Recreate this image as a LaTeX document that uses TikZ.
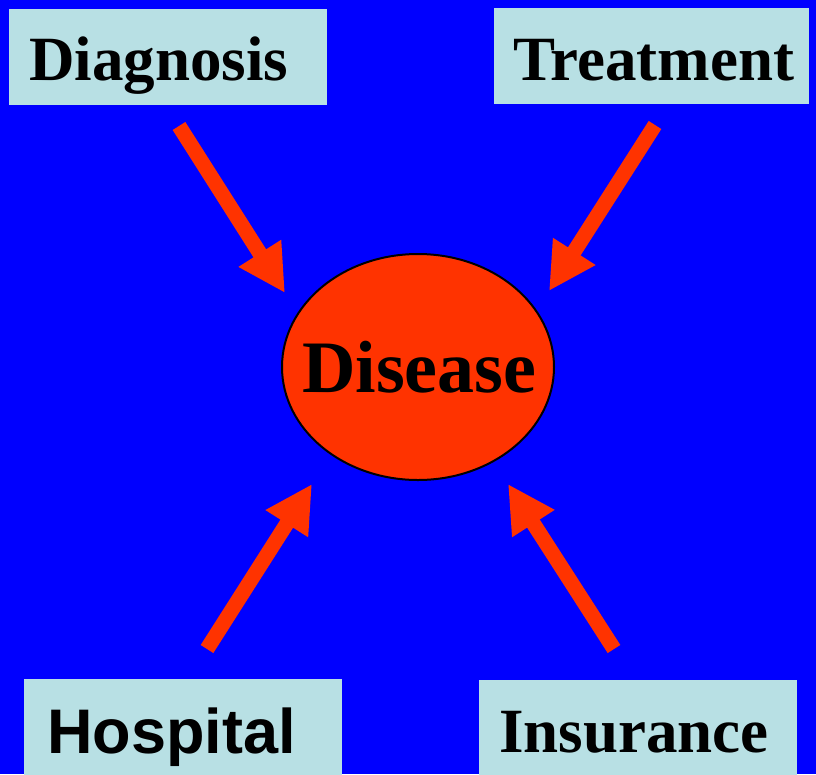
\documentclass[tikz,border=0pt]{standalone}
\usepackage{fontspec}
\setmainfont{Liberation Serif}
\newfontfamily\arialfont{Liberation Sans}
\usetikzlibrary{shapes.geometric, arrows.meta}
\definecolor{bgblue}{HTML}{0000FF}
\definecolor{boxcyan}{HTML}{B8E0E4}
\definecolor{hotred}{HTML}{FF3300}
\tikzset{
  termbox/.style={fill=boxcyan, draw=none, anchor=north west, inner sep=0pt},
  termtext/.style={anchor=base west, inner sep=0pt, font=\bfseries\fontsize{63}{70}\selectfont},
  pointer/.style={draw=hotred, line width=15pt, -{Triangle[length=47pt, width=47pt]}}
}
\begin{document}
\begin{tikzpicture}[x=1pt, y=-1pt]
                \fill[bgblue] (0,0) rectangle (816,774);
                \useasboundingbox (0,0) rectangle (816,774);
                % boxes
                \node[termbox, minimum width=318pt, minimum height=96pt] (diag) at (9,9) {};
                \node[termbox, minimum width=315pt, minimum height=96pt] (treat) at (494,8) {};
                \node[termbox, minimum width=318pt, minimum height=96pt] (hosp) at (24,679) {};
                \node[termbox, minimum width=318pt, minimum height=96pt] (ins) at (479,680) {};
                \node[termtext] (diag-text) at (29,80) {Diagnosis};
                \node[termtext] (treat-text) at (513,80) {Treatment};
                \node[termtext, font=\arialfont\bfseries\fontsize{63}{70}\selectfont] (hosp-text) at (47,753) {Hospital};
                \node[termtext] (ins-text) at (499,752) {Insurance};
                % centre
                \node[ellipse, fill=hotred, draw=black, line width=2pt, minimum width=272pt, minimum height=226pt,
                      inner sep=0pt] (disease) at (418,367) {};
                \node[termtext, font=\bfseries\fontsize{74}{80}\selectfont] (disease-text) at (302,392) {Disease};
                % arrows
                \coordinate (diag-tail) at (179,126);
                \coordinate (diag-tip) at (285,293);
                \coordinate (treat-tail) at (655,125);
                \coordinate (treat-tip) at (549,291);
                \coordinate (hosp-tail) at (207,649);
                \coordinate (hosp-tip) at (312,484);
                \coordinate (ins-tail) at (614,649);
                \coordinate (ins-tip) at (508,484);
                \foreach \a in {diag,treat,hosp,ins}{
                    \draw[pointer] (\a-tail) -- (\a-tip);
                }
            \end{tikzpicture}
\end{document}
